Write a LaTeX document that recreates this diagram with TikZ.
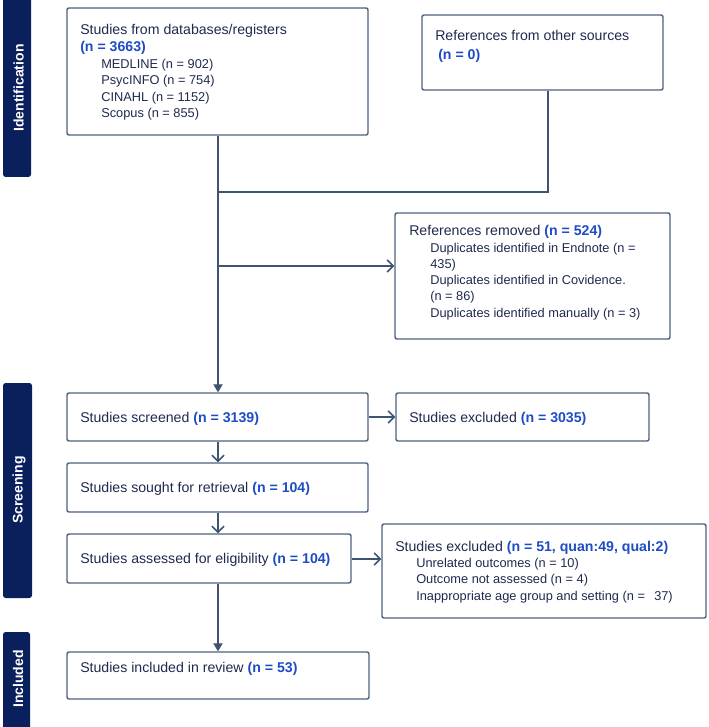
\documentclass[tikz,border=0pt]{standalone}
\usepackage{fontspec}
\setmainfont{Liberation Sans}
\usetikzlibrary{arrows.meta,fit}
\definecolor{barblue}{RGB}{10,32,92}
\definecolor{boxline}{RGB}{78,98,128}
\definecolor{conline}{RGB}{62,84,112}
\definecolor{txt}{RGB}{32,42,78}
\definecolor{nblue}{RGB}{30,76,196}
\newcommand{\nb}[1]{\textbf{\color{nblue}#1}}
\begin{document}
\begin{tikzpicture}[x=0.75pt,y=-0.75pt,
  flowbox/.style={draw=boxline, line width=1.1pt, rounded corners=1.5pt, inner sep=0pt, fill=white},
  sidebar/.style={fill=barblue, rounded corners=2pt, inner sep=0pt},
  bartext/.style={rotate=90, text=white, font=\fontsize{10.5}{12}\selectfont\bfseries},
  lbl/.style={anchor=base west, inner sep=0pt, text=txt, font=\fontsize{10.6}{12.4}\selectfont},
  sublbl/.style={lbl, font=\fontsize{9.6}{11.5}\selectfont},
  trunk/.style={draw=conline, line width=1pt},
  openarrow/.style={draw=conline, line width=1.1pt, -{Straight Barb[length=4.5pt,width=9pt,line width=1.1pt]}},
  filledarrow/.style={draw=conline, line width=1pt, -{Triangle[length=6pt,width=7pt]}}
]
\useasboundingbox (0,0) rectangle (709,727);

% side bars
\node[sidebar, fit={(3,-10) (31,177)}] (idbar) {};
\node[bartext] at (18.5,88) {Identification};
\node[sidebar, fit={(3,383) (32,598)}] (scbar) {};
\node[bartext] at (19,490) {Screening};
\node[sidebar, fit={(3,632) (30,740)}] (inbar) {};
\node[bartext] at (18,679) {Included};

% boxes
\node[flowbox, fit={(67,8) (368,135)}] (db) {};
\node[flowbox, fit={(422,15) (663,90)}] (other) {};
\node[flowbox, fit={(395,213) (670,339)}] (removed) {};
\node[flowbox, fit={(67,393) (368,441)}] (screened) {};
\node[flowbox, fit={(396,393) (649,441)}] (excla) {};
\node[flowbox, fit={(67,463) (368,512)}] (sought) {};
\node[flowbox, fit={(67,534) (351,583)}] (assessed) {};
\node[flowbox, fit={(382,524) (706,618)}] (exclb) {};
\node[flowbox, fit={(67,652) (369,699)}] (included) {};

% texts
\node[lbl] at (80,34.5) {Studies from databases/registers};
\node[lbl] at (80,51.5) {\nb{(n = 3663)}};
\node[sublbl] at (101,68.5) {MEDLINE (n = 902)};
\node[sublbl] at (101,85) {PsycINFO (n = 754)};
\node[sublbl] at (101,101.5) {CINAHL (n = 1152)};
\node[sublbl] at (101,118) {Scopus (n = 855)};

\node[lbl] at (435,40.5) {References from other sources};
\node[lbl] at (438,59.5) {\nb{(n = 0)}};

\node[lbl] at (409,235) {References removed \nb{(n = 524)}};
\node[sublbl] at (430,252) {Duplicates identified in Endnote (n =};
\node[sublbl] at (430,268) {435)};
\node[sublbl] at (430,284) {Duplicates identified in Covidence.};
\node[sublbl] at (430,300) {(n = 86)};
\node[sublbl] at (430,317) {Duplicates identified manually (n = 3)};

\node[lbl] at (80,422) {Studies screened \nb{(n = 3139)}};
\node[lbl] at (409,422) {Studies excluded \nb{(n = 3035)}};
\node[lbl] at (80,492) {Studies sought for retrieval \nb{(n = 104)}};
\node[lbl] at (80,563.5) {Studies assessed for eligibility \nb{(n = 104)}};

\node[lbl] at (395,551) {Studies excluded \nb{(n = 51, quan:49, qual:2)}};
\node[sublbl] at (416,567) {Unrelated outcomes (n = 10)};
\node[sublbl] at (416,583) {Outcome not assessed (n = 4)};
\node[sublbl] at (416,600) {Inappropriate age group and setting (n = \ \,37)};

\node[lbl] at (80,672.5) {Studies included in review \nb{(n = 53)}};

% connectors
\coordinate (join) at (218,192);
\coordinate (branch) at (218,266);
\draw[trunk] (other.south -| 548,0) |- (join);
\draw[filledarrow] (db.south -| join) -- (screened.north -| join);
\draw[openarrow] (branch) -- (removed.west |- branch);
\draw[openarrow] (screened.east |- 0,417) -- (excla.west |- 0,417);
\draw[openarrow] (screened.south -| join) -- (sought.north -| join);
\draw[openarrow] (sought.south -| join) -- (assessed.north -| join);
\draw[openarrow] (assessed.east |- 0,559) -- (exclb.west |- 0,559);
\draw[filledarrow, line width=0.9pt] (assessed.south -| join) -- (included.north -| join);
\end{tikzpicture}
\end{document}
